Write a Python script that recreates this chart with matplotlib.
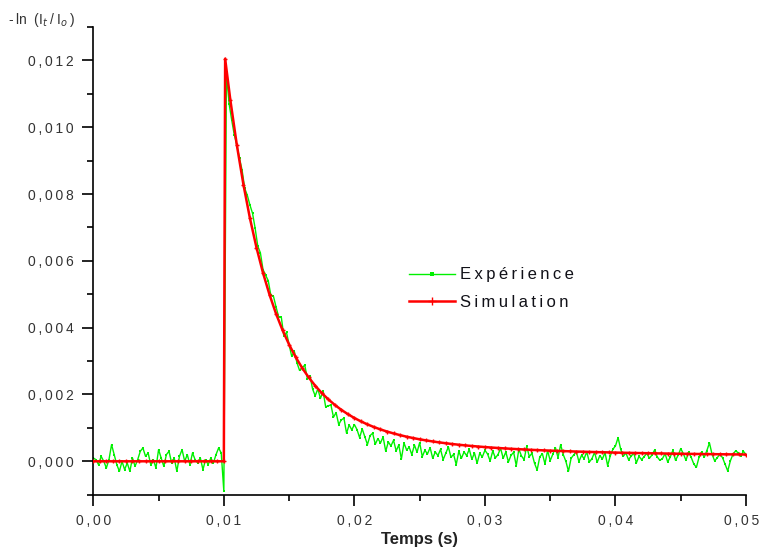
import numpy as np
import matplotlib
matplotlib.use("Agg")
import matplotlib.pyplot as plt
from matplotlib.ticker import FuncFormatter, MultipleLocator

plt.rcParams['font.family'] = ['Liberation Sans', 'DejaVu Sans']

# ---------------- data (absorbance values in units of 1e-3) ----------------
# Experiment: sampled every 0.2 ms from 0 to 50 ms
exp_step = 0.0002
exp_pre = [0.10, 0.05, -0.10, 0.15, 0.00, -0.20, 0.05, 0.50, 0.20, -0.10,
           -0.30, 0.00, -0.25, -0.05, -0.30, 0.10, -0.15, 0.05, 0.30, 0.40,
           0.15, 0.25, -0.10, 0.05, -0.20, 0.35, 0.10, -0.15, 0.20, 0.30,
           -0.05, 0.10, -0.30, 0.15, 0.35, 0.00, 0.20, -0.10, 0.25, 0.05,
           -0.05, 0.10, -0.25, 0.05, -0.10, 0.10, -0.05, 0.20, 0.40, 0.25,
           -0.90]
exp_post = [11.63, 10.71, 10.22, 9.77, 9.46, 9.07, 8.71, 8.17, 7.96, 7.67,
            7.42, 6.97, 6.44, 6.24, 5.74, 5.57, 5.41, 4.97, 4.94, 4.62,
            4.32, 4.32, 3.74, 3.86, 3.49, 3.14, 3.29, 2.95, 2.72, 2.80,
            2.88, 2.47, 2.56, 2.16, 1.96, 2.17, 1.88, 2.10, 1.63, 1.66,
            1.69, 1.32, 1.46, 1.10, 1.24, 1.29, 0.84, 1.09, 0.94, 1.10,
            0.95, 0.71, 0.97, 0.74, 0.50, 0.77, 0.84, 0.51, 0.68, 0.55,
            0.73, 0.30, 0.58, 0.46, 0.63, 0.31, 0.49, 0.07, 0.55, 0.34,
            0.42, 0.20, 0.49, 0.27, 0.56, 0.14, 0.33, 0.22, 0.41, 0.09,
            0.28, 0.17, 0.36, 0.05, 0.24, 0.43, 0.12, 0.21, -0.10, 0.30,
            0.09, 0.28, 0.17, 0.36, 0.06, 0.25, -0.06, 0.24, 0.13, 0.33,
            0.22, 0.01, 0.31, 0.10, 0.20, 0.39, 0.09, 0.28, -0.02, 0.18,
            0.27, -0.13, 0.36, 0.16, 0.05, 0.45, 0.14, 0.24, -0.06, -0.26,
            0.13, 0.23, -0.08, 0.32, 0.02, 0.21, 0.41, 0.11, 0.50, 0.20,
            0.00, -0.30, 0.09, 0.19, 0.29, -0.01, 0.18, 0.08, 0.28, -0.02,
            0.08, 0.27, -0.03, 0.17, 0.07, 0.26, -0.13, 0.16, 0.36, 0.46,
            0.71, 0.36, 0.15, 0.25, 0.05, 0.15, 0.25, -0.05, 0.15, 0.05,
            0.14, 0.24, 0.09, 0.19, 0.34, 0.13, 0.03, 0.08, 0.23, -0.02,
            0.13, 0.33, 0.03, 0.18, 0.38, 0.23, 0.03, 0.27, 0.12, -0.08,
            -0.18, 0.12, 0.27, 0.12, 0.32, 0.55, 0.21, 0.01, 0.11, 0.21,
            0.11, -0.09, -0.29, 0.01, 0.21, 0.31, 0.26, 0.16, 0.30, 0.20]

# Simulation
sim_pre_t = [0.0000, 0.0005, 0.0010, 0.0015, 0.0020, 0.0025, 0.0030, 0.0035,
             0.0040, 0.0045, 0.0050, 0.0055, 0.0060, 0.0065, 0.0070, 0.0075,
             0.0080, 0.0085, 0.0090, 0.0095, 0.0100]
sim_peak_t = 0.0101
sim_tail_start = 0.0105
sim_tail_step = 0.0005
sim_post = [12.05, 10.81, 9.455, 8.285, 7.273, 6.399, 5.641, 4.986, 4.417, 3.923,
            3.494, 3.120, 2.795, 2.511, 2.262, 2.045, 1.855, 1.688, 1.541, 1.411,
            1.296, 1.195, 1.105, 1.025, 0.954, 0.891, 0.834, 0.783, 0.737, 0.696,
            0.658, 0.625, 0.594, 0.566, 0.541, 0.517, 0.496, 0.476, 0.458, 0.442,
            0.426, 0.412, 0.399, 0.386, 0.375, 0.364, 0.354, 0.344, 0.336, 0.327,
            0.320, 0.312, 0.305, 0.299, 0.292, 0.287, 0.281, 0.276, 0.271, 0.266,
            0.261, 0.257, 0.253, 0.249, 0.245, 0.242, 0.238, 0.235, 0.232, 0.229,
            0.226, 0.223, 0.221, 0.218, 0.216, 0.214, 0.211, 0.209, 0.207, 0.205,
            0.203]

x_ticks = [0.00, 0.01, 0.02, 0.03, 0.04, 0.05]
y_ticks = [0.000, 0.002, 0.004, 0.006, 0.008, 0.010, 0.012]

# ---------------- build arrays ----------------
exp_v = np.array(exp_pre + exp_post) * 1e-3
exp_t = np.arange(len(exp_v)) * exp_step

sim_v_post = np.array(sim_post) * 1e-3
sim_t_post = np.concatenate([[sim_peak_t],
                             sim_tail_start + np.arange(len(sim_post) - 1) * sim_tail_step])
sim_t = np.concatenate([sim_pre_t, sim_t_post])
sim_v = np.concatenate([np.zeros(len(sim_pre_t)), sim_v_post])

THIN = '\u2009'


def spaced(s):
    """Mimic the wide letter spacing of the original rendering."""
    return THIN.join(s)


def xfmt(v):
    return spaced(f"{v:.2f}".replace('.', ','))


# ---------------- figure ----------------
fig = plt.figure(figsize=(7.61, 5.49), dpi=100)
ax = fig.add_axes([0.1226, 0.0989, 0.8577, 0.8519])

green = '#00f000'
red = '#ff0000'
ax.plot(exp_t, exp_v, color=green, lw=1.0, marker='s', ms=1.6, mew=0,
        label=spaced('Expérience'), zorder=2)
ax.plot(sim_t, sim_v, color=red, lw=1.8, marker='+', ms=3.5, mew=1.0,
        label=spaced('Simulation'), zorder=3)

ax.set_xlim(0, 0.05)
ax.set_ylim(-0.001, 0.013)

ax.xaxis.set_minor_locator(MultipleLocator(0.005))
ax.yaxis.set_minor_locator(MultipleLocator(0.001))
ax.set_xticks(x_ticks)
ax.set_yticks(y_ticks)
# last x label sits at the figure edge: drawn separately so it stays inside
ax.set_xticklabels([xfmt(v) for v in x_ticks[:-1]] + [''])
ax.yaxis.set_major_formatter(FuncFormatter(lambda v, p: spaced(f"{v:.3f}".replace('.', ','))))

for s in ['top', 'right']:
    ax.spines[s].set_visible(False)
for s in ['left', 'bottom']:
    ax.spines[s].set_linewidth(1.2)
    ax.spines[s].set_color('black')

ax.tick_params(which='major', direction='out', length=8, width=1.2, pad=6,
               labelsize=10, colors='black')
ax.tick_params(which='minor', direction='out', length=4, width=1.2, colors='black')
ax.tick_params(axis='both', labelcolor='#333333')

# last x tick label, right-aligned just inside the figure edge
first_lbl = ax.get_xticklabels()[0]
fig.canvas.draw()
bb = first_lbl.get_window_extent()
y_mid = (bb.y0 + bb.y1) / 2 / fig.bbox.height
fig.text(759 / 761, y_mid, xfmt(x_ticks[-1]), fontsize=10, color='#333333',
         ha='right', va='center')

ax.set_xlabel('Temps (s)', fontsize=12, fontweight='bold', color='#222222', labelpad=3)
fig.text(8 / 761, 1 - 24 / 549,
         '-' + THIN + 'ln  (I$_t$' + THIN + '/' + THIN + 'I$_o$' + THIN + ')',
         fontsize=10, color='#333333', ha='left', va='baseline')

leg = ax.legend(loc='upper left', bbox_to_anchor=(0.483, 0.486), frameon=False,
                fontsize=12, handlelength=2.8, handletextpad=0.3, labelspacing=0.75,
                borderaxespad=0, borderpad=0, markerscale=1.5)
for t in leg.get_texts():
    t.set_color('#111118')

fig.savefig('out.png', dpi=100)
